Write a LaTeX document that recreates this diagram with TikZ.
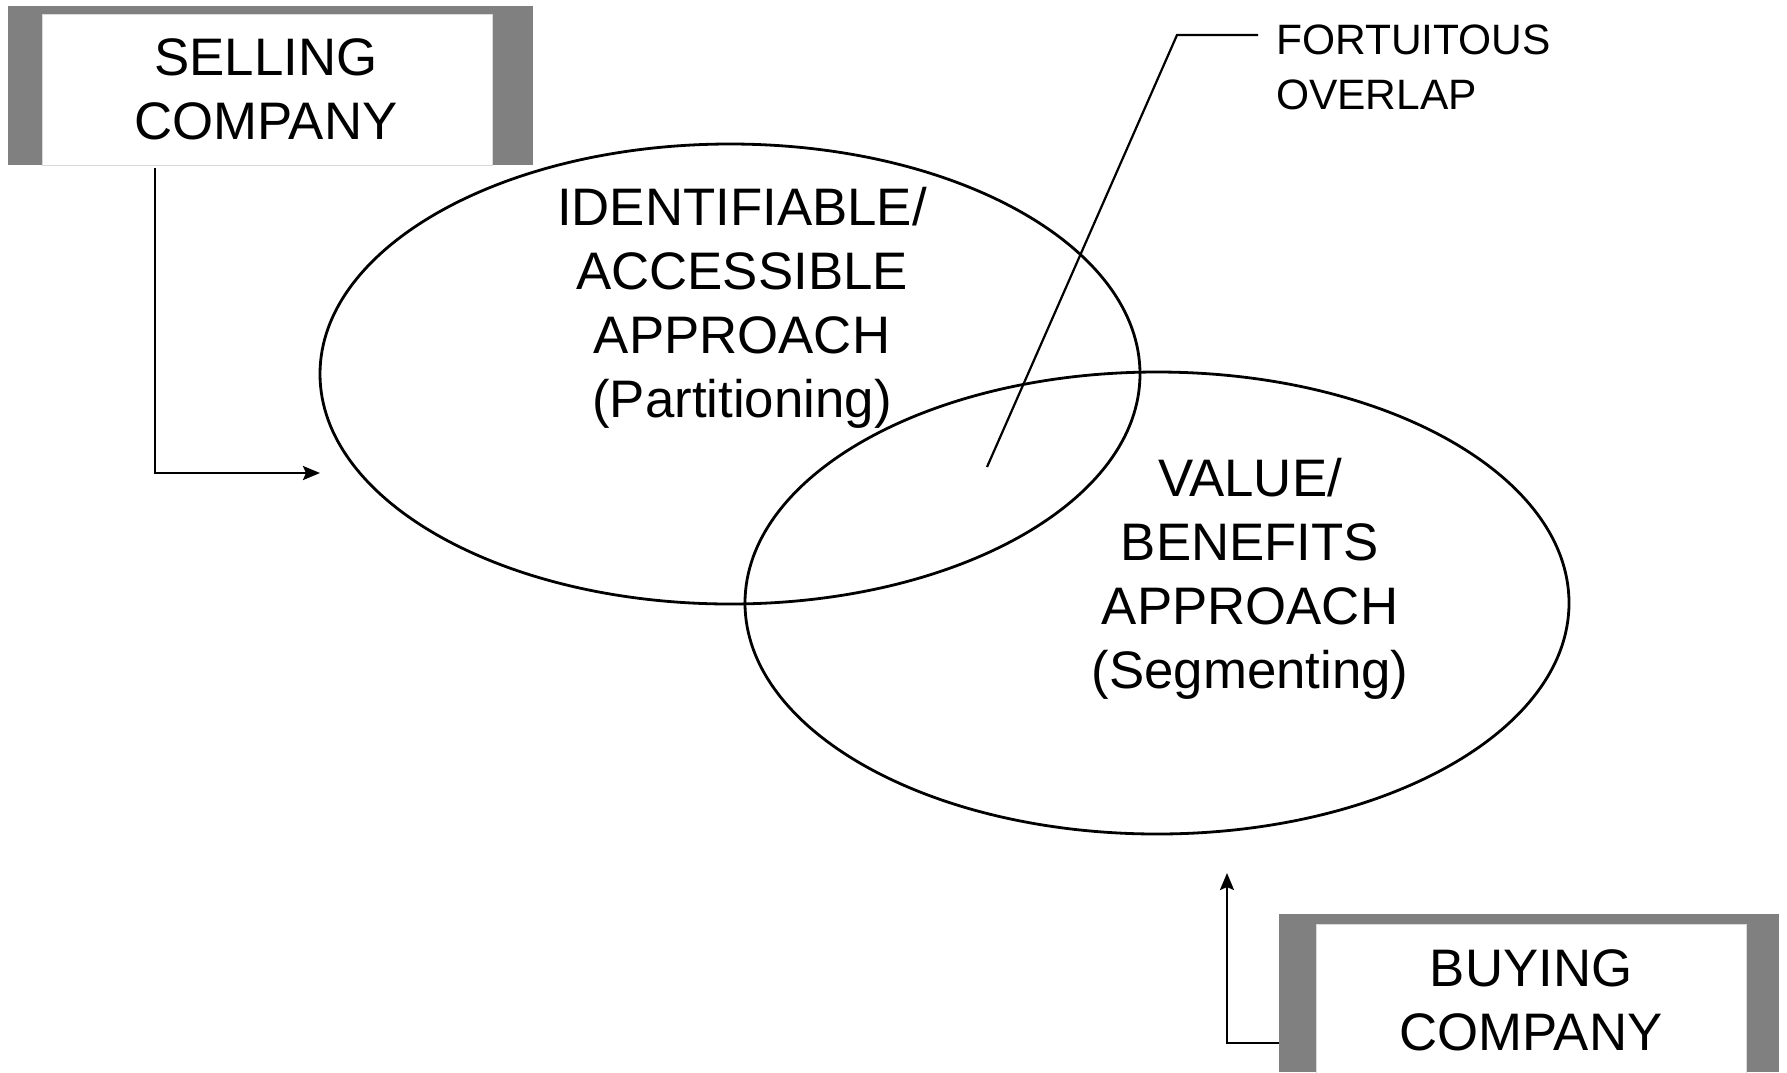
\documentclass[tikz,border=0pt]{standalone}
\usepackage{fontspec}
\setmainfont{Liberation Sans}
\usetikzlibrary{shapes.geometric,arrows.meta,calc}

\tikzset{
  frame/.style={fill=black!50, draw=none, inner sep=0pt, outer sep=0pt},
  panel/.style={fill=white, draw=black!15, line width=0.8pt, inner sep=0pt, outer sep=0pt},
  bigtext/.style={font=\fontsize{52.8}{64}\selectfont, align=center, inner sep=0pt},
  smalltext/.style={font=\fontsize{42.5}{55}\selectfont, align=left, inner sep=0pt},
  approach/.style={ellipse, draw, line width=2.8pt, inner sep=0pt},
  conn/.style={line width=2.4pt},
  arrowconn/.style={conn, -{Stealth[length=17pt,width=14pt,inset=3pt]}},
}

\begin{document}
\begin{tikzpicture}[x=1pt, y=-1pt]
  \useasboundingbox (0,0) rectangle (1787,1072);

  % selling company box (text anchored at the last line's baseline)
  \node[frame, minimum width=525pt, minimum height=159pt] (sellframe) at (270.5,85.5) {};
  \node[panel, minimum width=450pt, minimum height=151pt] (sellpanel) at (267,89.5) {};
  \node[bigtext, anchor=base] (selltext) at (266,139) {SELLING\\COMPANY};

  % buying company box
  \node[frame, minimum width=500pt, minimum height=158pt] (buyframe) at (1529,993) {};
  \node[panel, minimum width=430pt, minimum height=150pt] (buypanel) at (1531,999) {};
  \node[bigtext, anchor=base] (buytext) at (1531,1050) {BUYING\\COMPANY};

  % the two approaches
  \node[approach, minimum width=820pt, minimum height=460pt] (partition) at (730,374) {};
  \node[approach, minimum width=824pt, minimum height=462pt] (segment) at (1157,603) {};
  \node[bigtext, anchor=base] (partitiontext) at (742,417)
    {IDENTIFIABLE/\\ACCESSIBLE\\APPROACH\\(Partitioning)};
  \node[bigtext, anchor=base] (segmenttext) at (1250,688)
    {VALUE/\\BENEFITS\\APPROACH\\(Segmenting)};

  % overlap callout
  \coordinate (overlapdot) at (987,467);
  \coordinate (overlapknee) at (1177,35);
  \node[smalltext, anchor=base west] (overlaplabel) at (1276,109) {FORTUITOUS\\OVERLAP};
  \draw[conn, line width=2.2pt] (overlapdot) -- (overlapknee) -- (overlapknee -| 1258,0);

  % arrows from the companies
  \coordinate (selltip) at (320,473);
  \draw[arrowconn] ([shift={(147,3)}]sellframe.south west) |- (selltip);
  \coordinate (buytip) at (1227,873);
  \draw[arrowconn] ([yshift=29pt]buyframe.south west) -| (buytip);
\end{tikzpicture}
\end{document}
